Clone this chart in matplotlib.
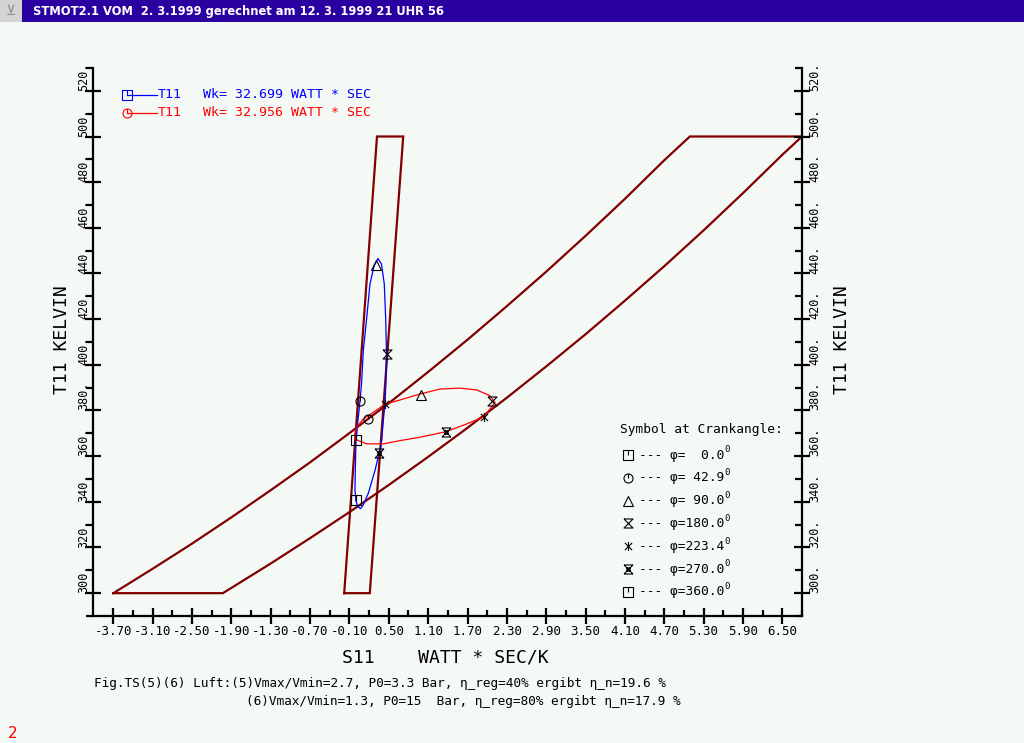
import matplotlib
matplotlib.use('Agg')
import matplotlib.pyplot as plt
from matplotlib.path import Path
from matplotlib.patches import Rectangle
from matplotlib.transforms import ScaledTranslation, blended_transform_factory

# ---------------- data (S in Watt*sec/K, T in Kelvin) ----------------
band_upper_S = [-3.70, -3.10, -2.50, -1.90, -1.30, -0.70, -0.10, 0.50, 1.10,
                1.70, 2.30, 2.90, 3.50, 4.10, 4.70, 5.09]
band_upper_T = [300.0, 310.7, 321.7, 333.2, 345.1, 357.3, 370.1, 383.2, 396.9,
                411.0, 425.7, 440.8, 456.5, 472.7, 489.6, 500.0]
band_lower_S = [6.80, 6.50, 5.90, 5.30, 4.70, 4.10, 3.50, 2.90, 2.30, 1.70,
                1.10, 0.50, -0.10, -0.70, -1.30, -1.90, -2.03]
band_lower_T = [500.0, 492.0, 475.2, 458.9, 443.2, 428.1, 413.4, 399.3, 385.6, 372.4,
                359.7, 347.4, 335.5, 324.1, 313.0, 302.3, 300.0]

narrow_S = [-0.18, 0.21, 0.72, 0.32, -0.18]
narrow_T = [300.0, 300.0, 500.0, 500.0, 300.0]

blue_S = [0.000, -0.016, -0.011, 0.000, 0.030, 0.061, 0.084, 0.111, 0.163, 0.213,
          0.274, 0.335, 0.389, 0.431, 0.452, 0.465, 0.457, 0.442, 0.416, 0.391,
          0.355, 0.289, 0.187, 0.106, 0.068, 0.023, 0.000]
blue_T = [340.6, 345.0, 353.7, 366.8, 375.5, 384.3, 391.7, 406.1, 420.5, 435.4,
          443.2, 446.6, 444.1, 435.4, 420.5, 405.2, 393.0, 383.0, 375.5, 366.8,
          361.6, 353.7, 343.7, 338.4, 337.0, 338.0, 340.6]

red_S = [0.007, -0.016, 0.010, 0.111, 0.263, 0.442, 0.670, 0.975, 1.280, 1.585,
         1.840, 2.042, 2.119, 2.042, 1.951, 1.687, 1.372, 0.975, 0.670, 0.416,
         0.163, 0.035, 0.007]
red_T = [367.2, 369.7, 372.6, 376.3, 379.2, 382.8, 384.6, 387.2, 389.4, 389.8,
         389.0, 386.5, 383.5, 380.7, 377.3, 374.1, 370.7, 368.3, 366.8, 365.4,
         365.4, 366.8, 367.2]

# marker positions at crank angles 0, 42.9, 90, 180, 223.4, 270
crank_angles = [0.0, 42.9, 90.0, 180.0, 223.4, 270.0, 360.0]
blue_mark_S = [0.000, 0.061, 0.300, 0.468, 0.442, 0.350]
blue_mark_T = [340.6, 384.3, 443.7, 404.9, 382.8, 361.4]
red_mark_S = [0.000, 0.187, 0.986, 2.068, 1.951, 1.372]
red_mark_T = [367.1, 376.3, 386.9, 384.3, 377.3, 370.7]

wk_values = [32.699, 32.956]
series_names = ['T11', 'T11']

xticks = [-3.70, -3.10, -2.50, -1.90, -1.30, -0.70, -0.10, 0.50, 1.10,
          1.70, 2.30, 2.90, 3.50, 4.10, 4.70, 5.30, 5.90, 6.50]
yticks = [300, 320, 340, 360, 380, 400, 420, 440, 460, 480, 500, 520]

# ---------------- styles ----------------
BG = '#f4f9f6'
BROWN = '#800000'
MONO = ['DejaVu Sans Mono', 'DejaVu Sans']

M, L = Path.MOVETO, Path.LINETO
sq_tick = Path([(-1, -1), (1, -1), (1, 1), (-1, 1), (-1, -1), (0, 1), (0, 0)],
               [M, L, L, L, L, M, L])
circ_tick = Path.make_compound_path(Path.unit_circle(), Path([(0, 1), (0, 0)], [M, L]))
hourglass = Path([(-1, 1), (1, 1), (-1, -1), (1, -1), (-1, 1)], [M, L, L, L, L])
astk = Path([(0, -1), (0, 1), (-0.8, -0.8), (0.8, 0.8), (-0.8, 0.8), (0.8, -0.8)],
            [M, L, M, L, M, L])
xbox = Path([(-1, -1), (1, 1), (-1, 1), (1, -1), (-1, 1), (1, 1), (-1, -1), (1, -1),
             (-0.35, -0.35), (0.35, -0.35), (0.35, 0.35), (-0.35, 0.35), (-0.35, -0.35)],
            [M, L, M, L, M, L, M, L, M, L, L, L, L])
markers = [sq_tick, circ_tick, '^', hourglass, astk, xbox, sq_tick]

W, H = 1024, 743
fig = plt.figure(figsize=(W / 100, H / 100), dpi=100, facecolor=BG)

ax = fig.add_axes([93 / W, 1 - 616 / H, (802 - 93) / W, (616 - 68) / H])
ax.set_facecolor('none')
ax.set_xlim(-4.01, 6.80)
ax.set_ylim(290, 530)

# brown boundary shapes
band_S = band_upper_S + band_lower_S + [band_upper_S[0]]
band_T = band_upper_T + band_lower_T + [band_upper_T[0]]
ax.plot(band_S, band_T, color=BROWN, lw=1.6, solid_joinstyle='miter')
ax.plot(narrow_S, narrow_T, color=BROWN, lw=1.6, solid_joinstyle='miter')

# cycles
ax.plot(blue_S, blue_T, color='#0000ff', lw=0.9)
ax.plot(red_S, red_T, color='#ff0000', lw=0.9)

for i in range(6):
    for S, T in ((blue_mark_S, blue_mark_T), (red_mark_S, red_mark_T)):
        ax.plot(S[i], T[i], marker=markers[i], ms=6.5, mfc='none', mec='black',
                mew=0.8, ls='none')

# spines
for s in ('left', 'right', 'bottom'):
    ax.spines[s].set_linewidth(1.6)
    ax.spines[s].set_color('black')
ax.spines['top'].set_visible(False)

ax.set_xticks(xticks)
ax.set_xticklabels(['%.2f' % v for v in xticks], fontfamily=MONO, fontsize=9)
ax.set_xticks([v + 0.3 for v in xticks], minor=True)
ax.tick_params(axis='x', which='major', direction='inout', length=11, width=1.6, pad=1)
ax.tick_params(axis='x', which='minor', direction='in', length=4, width=1.6)

ax.set_yticks(yticks)
ax.set_yticks([v + 10 for v in yticks] + [290], minor=True)
ax.tick_params(axis='y', which='major', direction='inout', length=11, width=1.6,
               labelleft=False, left=True, right=False)
ax.tick_params(axis='y', which='minor', direction='out', length=5, width=1.6,
               left=True, right=False)

ax2 = ax.twinx()
ax2.set_ylim(290, 530)
ax2.set_yticks(yticks)
ax2.set_yticks([v + 10 for v in yticks] + [290], minor=True)
ax2.tick_params(axis='y', which='major', direction='inout', length=11, width=1.6,
                labelright=False)
ax2.tick_params(axis='y', which='minor', direction='in', length=5, width=1.6)
for s in ax2.spines.values():
    s.set_visible(False)

# rotated y tick labels on both sides
tl = blended_transform_factory(ax.transAxes, ax.transData)
for v in yticks:
    ax.text(0, v, '%d.' % v, rotation=90, rotation_mode='anchor', ha='left', va='center',
            fontfamily=MONO, fontsize=8.5,
            transform=tl + ScaledTranslation(-9 / 100, 0, fig.dpi_scale_trans))
    ax.text(1, v, '%d.' % v, rotation=90, rotation_mode='anchor', ha='left', va='center',
            fontfamily=MONO, fontsize=8.5,
            transform=tl + ScaledTranslation(13 / 100, 0, fig.dpi_scale_trans))

# ---------------- overlay in pixel coordinates ----------------
ov = fig.add_axes([0, 0, 1, 1])
ov.set_xlim(0, W)
ov.set_ylim(H, 0)
ov.axis('off')
ov.set_zorder(5)

# title bar
ov.add_patch(Rectangle((0, 0), 22, 22, facecolor='#d4d4d4', edgecolor='none'))
ov.text(11, 11, '\u22bb', ha='center', va='center', color='#909090', fontsize=10)
ov.add_patch(Rectangle((22, 0), W - 22, 22, facecolor='#2a00a0', edgecolor='none'))
ov.text(33, 11.5, 'STMOT2.1 VOM  2. 3.1999 gerechnet am 12. 3. 1999 21 UHR 56',
        ha='left', va='center', color='white', fontsize=8.3, fontweight='bold',
        fontfamily='DejaVu Sans')

# series legend (top left)
for k, (col, mk, y) in enumerate((('#0000ff', sq_tick, 95), ('#ff0000', circ_tick, 113))):
    ov.plot([127, 157], [y, y], color=col, lw=0.9)
    ov.plot(127, y, marker=mk, ms=6.5, mfc='none', mec=col, mew=0.8)
    ov.text(158, y, series_names[k], color=col, fontfamily=MONO, fontsize=9.5,
            ha='left', va='center')
    ov.text(203, y, 'Wk= %.3f WATT * SEC' % wk_values[k], color=col, fontfamily=MONO,
            fontsize=9.5, ha='left', va='center')

# crank angle symbol legend
ov.text(620, 429, 'Symbol at Crankangle:', fontfamily=MONO, fontsize=9.3,
        ha='left', va='center')
for i, ang in enumerate(crank_angles):
    y = 455 + i * 22.8
    ov.plot(628, y, marker=markers[i], ms=6.5, mfc='none', mec='black', mew=0.8)
    ov.text(639, y, '--- \u03c6=%5.1f' % ang, fontfamily=MONO, fontsize=9.3,
            ha='left', va='center')
    ov.text(724, y - 5, '0', fontfamily=MONO, fontsize=6.5, ha='left', va='center')

# axis titles
ov.text(445, 657, 'S11    WATT * SEC/K', fontfamily=MONO, fontsize=13,
        ha='center', va='center')
ov.text(62, 340, 'T11 KELVIN', fontfamily=MONO, fontsize=13, rotation=90,
        ha='center', va='center')
ov.text(842, 340, 'T11 KELVIN', fontfamily=MONO, fontsize=13, rotation=90,
        ha='center', va='center')

# footnote
ov.text(94, 684, 'Fig.TS(5)(6) Luft:(5)Vmax/Vmin=2.7, P0=3.3 Bar, \u03b7_reg=40% ergibt \u03b7_n=19.6 %',
        fontfamily=MONO, fontsize=9.2, ha='left', va='center')
ov.text(681, 702, '(6)Vmax/Vmin=1.3, P0=15  Bar, \u03b7_reg=80% ergibt \u03b7_n=17.9 %',
        fontfamily=MONO, fontsize=9.2, ha='right', va='center')

ov.text(8, 733, '2', color='#ff0000', fontsize=11, ha='left', va='center',
        fontfamily='DejaVu Sans')

fig.savefig('out.png', dpi=100, facecolor=BG)
